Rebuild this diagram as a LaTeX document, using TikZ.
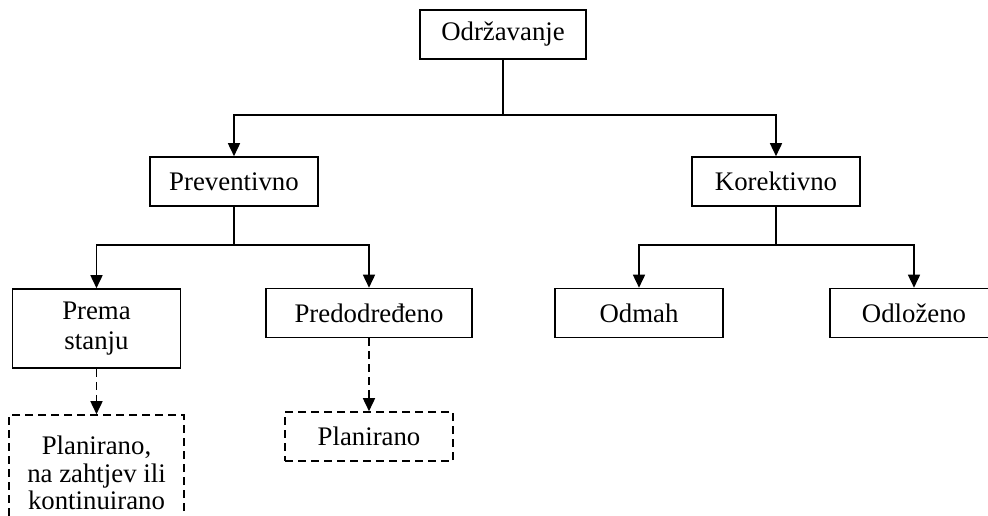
\documentclass[tikz,border=0pt]{standalone}
\usepackage{fontspec}
\setmainfont{Liberation Serif}
\usetikzlibrary{positioning,arrows.meta}

\begin{document}
\begin{tikzpicture}[
    x=0.5pt, y=-0.5pt,
    font=\fontsize{13.4}{13.8}\selectfont,
    box/.style={draw, line width=0.8pt, inner sep=0pt, minimum width=84pt, minimum height=24.5pt, align=center},
    dbox/.style={box, dash pattern=on 4pt off 2.5pt},
    edge/.style={-{Triangle[length=6.5pt,width=6pt]}, line width=0.8pt},
    dedge/.style={edge, dash pattern=on 4pt off 2.5pt},
    link/.style={line width=0.8pt}
]
\useasboundingbox (0,0) rectangle (988,515);

\node[box, minimum width=83pt] (odrz) at (503,34.5) {Održavanje};
\node[box] (prev) at (234,181.5) {Preventivno};
\node[box] (kor) at (776,181.5) {Korektivno};
\node[box, minimum height=39.5pt] (stanje) at (96.5,328.5) {Prema\\[1.2pt]stanju};
\node[box, minimum width=103pt] (predo) at (369,313) {Predodređeno};
\node[box] (odmah) at (639,313) {Odmah};
\node[box] (odlo) at (914,313) {Odloženo};
\node[dbox, minimum width=87.5pt, minimum height=58pt] (plan1) at (96.5,473) {Planirano,\\na zahtjev ili\\kontinuirano};
\node[dbox] (plan2) at (369,436.5) {Planirano};

\coordinate (j0) at (503,115);
\coordinate (j1) at (234,245);
\coordinate (j2) at (776,245);

\draw[link] (odrz) -- (j0);
\draw[edge] (j0) -| (prev);
\draw[edge] (j0) -| (kor);
\draw[link] (prev) -- (j1);
\draw[edge] (j1) -| (stanje);
\draw[edge] (j1) -| (predo);
\draw[link] (kor) -- (j2);
\draw[edge] (j2) -| (odmah);
\draw[edge] (j2) -| (odlo);
\draw[dedge] (stanje) -- (plan1);
\draw[dedge] (predo) -- (plan2);
\end{tikzpicture}
\end{document}
